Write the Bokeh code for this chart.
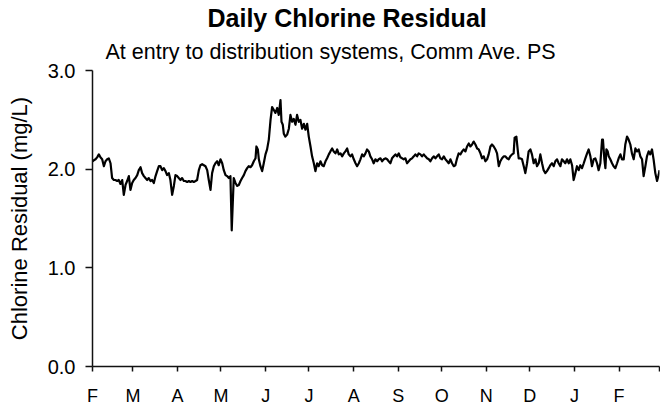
from bokeh.plotting import figure
from bokeh.models import Range1d, FixedTicker, PrintfTickFormatter, Title
from bokeh.embed import file_html
from bokeh.resources import INLINE

# Days since Feb 1 (first year) and daily chlorine residual (mg/L)
day = [
    0.0, 0.9, 2.1, 3.2, 4.4, 5.5, 6.7, 7.9, 9.0, 10.2, 11.3, 12.5, 13.6, 14.8, 15.9, 17.1, 18.2, 19.4, 20.6, 21.7,
    22.9, 24.0, 25.2, 26.3, 27.5, 28.6, 29.8, 31.0, 32.1, 33.3, 34.4, 35.6, 36.7, 37.9, 39.0, 40.2, 41.3, 42.5, 43.7, 44.8,
    46.0, 47.1, 48.3, 49.4, 50.6, 51.7, 52.9, 54.0, 55.2, 56.4, 57.5, 58.7, 59.8, 61.0, 62.1, 63.3, 64.4, 65.6, 66.8, 67.9,
    69.1, 70.2, 71.4, 72.5, 73.7, 74.8, 76.0, 77.2, 78.3, 79.5, 80.6, 81.8, 82.9, 84.1, 85.2, 86.4, 87.5, 88.7, 89.9, 91.0,
    92.2, 93.3, 94.5, 95.6, 96.5, 97.9, 99.1, 100.3, 101.4, 102.6, 103.7, 104.9, 106.0, 107.2, 108.3, 109.5, 110.6, 111.8, 113.0, 113.6,
    114.6, 115.3, 116.4, 117.6, 118.7, 119.9, 121.0, 122.2, 123.4, 124.5, 125.7, 126.8, 128.0, 129.1, 130.3, 131.0, 131.9, 132.6, 133.7, 134.9,
    136.1, 137.2, 138.4, 139.5, 140.7, 141.8, 143.0, 144.1, 145.3, 146.5, 147.6, 148.8, 149.9, 151.1, 152.2, 153.4, 154.5, 155.7, 156.8, 158.0,
    159.2, 160.3, 161.5, 162.6, 163.8, 164.9, 166.1, 167.2, 168.4, 169.6, 170.7, 171.9, 173.0, 174.2, 175.3, 176.5, 177.6, 178.8, 179.9, 181.1,
    182.3, 183.4, 184.6, 185.7, 186.9, 188.0, 189.2, 190.3, 191.5, 192.6, 193.8, 194.9, 196.1, 197.3, 198.4, 199.6, 200.7, 201.9, 203.0, 204.2,
    205.3, 206.5, 207.6, 208.8, 210.0, 211.1, 212.3, 213.4, 214.6, 215.7, 216.9, 218.0, 219.2, 220.4, 221.5, 222.7, 223.8, 225.0, 226.1, 227.3,
    228.4, 229.6, 230.7, 231.9, 233.1, 234.2, 235.4, 236.5, 237.7, 238.8, 240.0, 241.1, 242.3, 243.5, 244.6, 245.8, 246.9, 248.1, 249.2, 250.4,
    251.5, 252.7, 253.8, 255.0, 256.2, 257.3, 258.5, 259.6, 260.8, 261.9, 263.1, 264.2, 265.4, 266.6, 267.7, 268.9, 270.0, 271.2, 272.3, 273.5,
    274.6, 275.8, 276.9, 278.1, 279.3, 280.4, 281.6, 282.7, 283.9, 285.0, 286.2, 287.3, 288.5, 289.6, 290.8, 291.9, 292.6, 293.8, 294.7, 295.4,
    296.6, 297.7, 298.9, 300.0, 301.2, 302.3, 303.5, 304.6, 305.8, 307.0, 308.1, 309.3, 310.4, 311.6, 312.7, 313.9, 315.0, 316.2, 317.3, 318.5,
    319.7, 320.8, 322.0, 323.1, 324.3, 325.4, 326.6, 327.7, 328.9, 330.1, 331.2, 332.4, 333.5, 334.7, 335.8, 337.0, 338.1, 339.3, 340.5, 341.6,
    342.8, 343.9, 345.1, 346.2, 347.4, 348.5, 349.7, 350.8, 352.0, 353.2, 353.8, 354.8, 355.5, 356.2, 357.1, 357.8, 358.9, 360.1, 361.2, 362.4,
    363.6, 364.7, 365.9, 367.0, 368.2, 369.3, 370.5, 371.6, 372.8, 373.9, 375.1, 376.3, 377.4, 378.6, 379.7, 380.9, 382.0, 383.2, 384.3, 385.5,
    386.6, 387.8, 388.9, 390.1, 391.3, 392.4, 393.0,
]
chlorine = [
    2.08, 2.09, 2.10, 2.12, 2.15, 2.12, 2.10, 2.03, 2.08, 2.10, 2.11, 2.06, 1.91, 1.89, 1.89, 1.88, 1.89, 1.85, 1.89, 1.74,
    1.84, 1.88, 1.93, 1.79, 1.86, 1.89, 1.91, 1.94, 1.99, 2.02, 1.96, 1.93, 1.91, 1.89, 1.91, 1.88, 1.89, 1.86, 1.93, 1.98,
    2.03, 2.03, 1.99, 2.01, 1.98, 1.94, 1.96, 1.89, 1.74, 1.83, 1.94, 1.93, 1.91, 1.89, 1.91, 1.88, 1.88, 1.87, 1.88, 1.87,
    1.88, 1.87, 1.88, 1.89, 1.99, 2.04, 2.05, 2.04, 2.03, 1.99, 1.89, 1.79, 1.96, 2.03, 2.06, 2.08, 2.04, 2.10, 2.06, 1.99,
    1.94, 1.93, 1.91, 1.93, 1.38, 1.91, 1.86, 1.83, 1.84, 1.88, 1.91, 1.94, 1.98, 2.01, 2.03, 2.02, 2.04, 2.08, 2.11, 2.23,
    2.20, 2.10, 2.03, 1.98, 2.06, 2.15, 2.20, 2.30, 2.50, 2.63, 2.60, 2.57, 2.62, 2.55, 2.70, 2.48, 2.45, 2.36, 2.33, 2.35,
    2.41, 2.55, 2.48, 2.51, 2.45, 2.55, 2.48, 2.50, 2.41, 2.46, 2.40, 2.46, 2.33, 2.23, 2.13, 2.06, 1.98, 2.06, 2.03, 2.08,
    2.04, 2.03, 2.08, 2.11, 2.15, 2.18, 2.21, 2.18, 2.16, 2.20, 2.15, 2.16, 2.13, 2.16, 2.18, 2.21, 2.15, 2.13, 2.15, 2.10,
    2.06, 2.03, 2.06, 2.10, 2.15, 2.13, 2.16, 2.20, 2.18, 2.13, 2.10, 2.06, 2.10, 2.08, 2.10, 2.11, 2.08, 2.10, 2.11, 2.10,
    2.08, 2.06, 2.11, 2.13, 2.15, 2.13, 2.16, 2.12, 2.11, 2.10, 2.11, 2.06, 2.08, 2.10, 2.11, 2.13, 2.15, 2.13, 2.16, 2.15,
    2.13, 2.15, 2.13, 2.11, 2.10, 2.08, 2.11, 2.13, 2.11, 2.13, 2.15, 2.11, 2.10, 2.13, 2.10, 2.08, 2.06, 2.10, 2.06, 2.03,
    2.04, 2.11, 2.16, 2.15, 2.18, 2.20, 2.18, 2.23, 2.26, 2.23, 2.25, 2.28, 2.25, 2.21, 2.20, 2.16, 2.11, 2.13, 2.08, 2.10,
    2.15, 2.23, 2.25, 2.23, 2.20, 2.16, 2.03, 2.08, 2.11, 2.13, 2.13, 2.11, 2.10, 2.13, 2.15, 2.16, 2.32, 2.33, 2.20, 2.11,
    2.11, 2.10, 2.03, 1.96, 2.06, 2.18, 2.20, 2.15, 2.06, 2.10, 2.03, 2.06, 2.15, 2.06, 1.99, 1.96, 1.98, 2.01, 2.04, 2.06,
    2.03, 2.08, 2.10, 2.06, 2.03, 2.10, 2.08, 2.06, 2.10, 2.06, 2.10, 2.04, 1.89, 1.96, 2.03, 1.99, 2.04, 2.01, 2.06, 2.11,
    2.16, 2.20, 2.13, 2.03, 2.10, 2.11, 2.06, 1.99, 2.06, 2.30, 2.30, 2.10, 2.01, 2.20, 2.18, 2.13, 2.10, 2.06, 2.03, 2.01,
    2.06, 2.11, 2.15, 2.10, 2.10, 2.25, 2.33, 2.30, 2.25, 2.16, 2.10, 2.21, 2.18, 2.20, 2.13, 2.10, 1.93, 2.03, 2.13, 2.18,
    2.15, 2.20, 2.10, 1.96, 1.88, 1.94, 1.99,
]

# Month boundaries (days since Feb 1) and their labels
month_start = [0, 28, 59, 89, 120, 150, 181, 212, 242, 273, 303, 334, 365, 393]
month_label = ["F", "M", "A", "M", "J", "J", "A", "S", "O", "N", "D", "J", "F", ""]
y_ticks = [0, 1, 2, 3]

title_text = "Daily Chlorine Residual"
subtitle_text = "At entry to distribution systems, Comm Ave. PS"
y_label = "Chlorine Residual (mg/L)"

FONT = "Liberation Sans"

p = figure(width=660, height=408, output_backend="svg", toolbar_location=None,
           x_range=Range1d(0, 393), y_range=Range1d(0, 3),
           min_border_left=92, min_border_right=1, min_border_top=70, min_border_bottom=40,
           background_fill_color="white", border_fill_color="white")
p.outline_line_color = None
p.grid.visible = False

p.line(day, chlorine, line_color="black", line_width=2.2, line_join="round")

xa = p.xaxis[0]
xa.ticker = FixedTicker(ticks=month_start)
xa.major_label_overrides = {m: l for m, l in zip(month_start, month_label)}
xa.major_tick_in = 0
xa.major_tick_out = 5
xa.minor_tick_line_color = None
xa.axis_line_width = 1.5
xa.major_tick_line_width = 1.5
xa.axis_line_color = "#111111"
xa.major_tick_line_color = "#111111"
xa.major_label_text_font = FONT
xa.major_label_text_font_size = "18px"
xa.major_label_text_color = "black"
xa.major_label_standoff = 14

ya = p.yaxis[0]
ya.ticker = FixedTicker(ticks=y_ticks)
ya.formatter = PrintfTickFormatter(format="%.1f")
ya.major_tick_in = 0
ya.major_tick_out = 7
ya.minor_tick_line_color = None
ya.axis_line_width = 1.5
ya.major_tick_line_width = 1.5
ya.axis_line_color = "#111111"
ya.major_tick_line_color = "#111111"
ya.major_label_text_font = FONT
ya.major_label_text_font_size = "20px"
ya.major_label_text_color = "black"
ya.major_label_standoff = 10
ya.axis_label = y_label
ya.axis_label_text_font = FONT
ya.axis_label_text_font_style = "normal"
ya.axis_label_text_font_size = "22px"
ya.axis_label_text_color = "black"
ya.axis_label_standoff = 13

p.add_layout(Title(text=subtitle_text, align="left", offset=13, standoff=13, text_font=FONT,
                   text_font_style="normal", text_font_size="21.5px", text_color="black"), "above")
p.add_layout(Title(text=title_text, align="left", offset=115, standoff=0, text_font=FONT,
                   text_font_style="bold", text_font_size="25px", text_color="black"), "above")

open("out.html", "w").write(file_html(p, INLINE))
